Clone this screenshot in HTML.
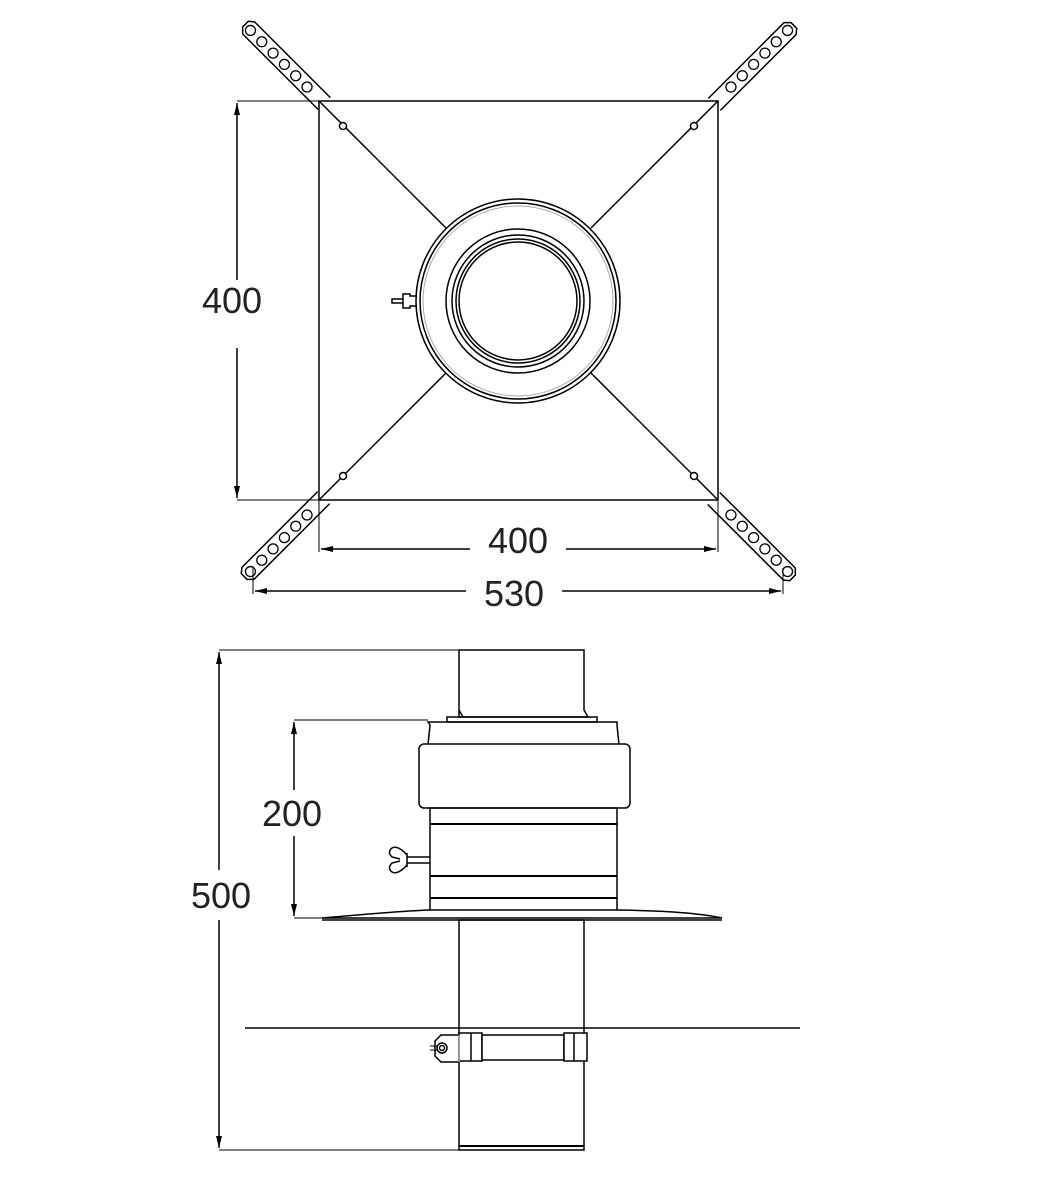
<!DOCTYPE html>
<html><head><meta charset="utf-8"><style>
html,body{margin:0;padding:0;background:#fff}
svg{display:block}
text{font-family:"Liberation Sans",sans-serif;font-size:36px;fill:#222}
</style></head><body>
<svg width="1040" height="1182" viewBox="0 0 1040 1182" xmlns="http://www.w3.org/2000/svg">
<defs>
<marker id="a" markerWidth="12" markerHeight="8" refX="12" refY="4" orient="auto" markerUnits="userSpaceOnUse"><path d="M0,1 L12,4 L0,7 z" fill="#000"/></marker>
<g id="strap">
<path d="M0,-8 L107,-8 L112,-3 L112,5 L107,9 L0,9" fill="#fff" stroke="#000" stroke-width="1.5"/>
<circle cx="24" cy="0" r="5" fill="none" stroke="#000" stroke-width="1.3"/>
<circle cx="40" cy="0" r="5" fill="none" stroke="#000" stroke-width="1.3"/>
<circle cx="56" cy="0" r="5" fill="none" stroke="#000" stroke-width="1.3"/>
<circle cx="72" cy="0" r="5" fill="none" stroke="#000" stroke-width="1.3"/>
<circle cx="88" cy="0" r="5" fill="none" stroke="#000" stroke-width="1.3"/>
<circle cx="104" cy="0" r="5" fill="none" stroke="#000" stroke-width="1.3"/>
</g>
</defs>
<g stroke="#000" fill="none" stroke-width="1.5">
<use href="#strap" transform="translate(324,104) rotate(225)"/>
<use href="#strap" transform="translate(714,104) rotate(-45)"/>
<use href="#strap" transform="translate(324,498) rotate(135)"/>
<use href="#strap" transform="translate(714,498) rotate(45)"/>
<rect x="319" y="101" width="399" height="399" fill="#fff"/>
<line x1="319" y1="101" x2="446" y2="228"/>
<line x1="718" y1="101" x2="591" y2="228"/>
<line x1="319" y1="500" x2="446" y2="373"/>
<line x1="718" y1="500" x2="591" y2="373"/>
<circle cx="343" cy="126" r="3.5" fill="#fff"/>
<circle cx="694" cy="126" r="3.5" fill="#fff"/>
<circle cx="343" cy="476" r="3.5" fill="#fff"/>
<circle cx="694" cy="476" r="3.5" fill="#fff"/>
<circle cx="518" cy="301" r="102" fill="#fff"/>
<circle cx="518" cy="301" r="98"/>
<circle cx="518" cy="301" r="95" stroke="#aaa" stroke-width="1"/>
<circle cx="518" cy="301" r="72"/>
<circle cx="518" cy="301" r="66"/>
<circle cx="518" cy="301" r="62"/>
<circle cx="518" cy="301" r="59"/>
<path d="M416,296 L410,296 L410,294 L403,294 L403,308 L410,308 L410,306 L416,306 M403,299 L392,299 L392,303 L403,303"/>
<line x1="237" y1="101" x2="319" y2="101" stroke-width="1"/>
<line x1="237" y1="500" x2="319" y2="500" stroke-width="1"/>
<line x1="237" y1="280" x2="237" y2="103" marker-end="url(#a)"/>
<line x1="237" y1="348" x2="237" y2="498" marker-end="url(#a)"/>
<line x1="319" y1="500" x2="319" y2="552" stroke-width="1"/>
<line x1="718" y1="500" x2="718" y2="552" stroke-width="1"/>
<line x1="470" y1="549" x2="321" y2="549" marker-end="url(#a)"/>
<line x1="566" y1="549" x2="716" y2="549" marker-end="url(#a)"/>
<line x1="253" y1="568" x2="253" y2="594" stroke-width="1"/>
<line x1="783" y1="568" x2="783" y2="594" stroke-width="1"/>
<line x1="466" y1="591" x2="255" y2="591" marker-end="url(#a)"/>
<line x1="562" y1="591" x2="781" y2="591" marker-end="url(#a)"/>
<path d="M459,650 L584,650 L584,710 L588,717 L459,717 L459,710 L463,717 M459,650 L459,710"/>
<path d="M447,717 L597,717 L597,722 L447,722 Z"/>
<path d="M428,722 L617,722 L617,725 L619,745 L428,745 L430,725 Z"/>
<rect x="419" y="744" width="211" height="64" rx="5" fill="#fff"/>
<rect x="430" y="808" width="187" height="104"/>
<line x1="430" y1="824" x2="617" y2="824" stroke-width="2"/>
<line x1="430" y1="876" x2="617" y2="876" stroke-width="2"/>
<line x1="430" y1="898" x2="617" y2="898" stroke-width="2"/>
<path d="M430,863 L407,863 M430,857 L407,857 M407,853 L407,867 M407,855 Q398,845 392,848 Q387,852 392,857 L400,859 M407,865 Q398,875 392,872 Q387,868 392,863 L400,861"/>
<path d="M322,918 Q400,911 430,910 L617,910 Q690,911 722,918 Z" fill="#fff"/>
<line x1="322" y1="920" x2="722" y2="920"/>
<rect x="459" y="920" width="125" height="230"/>
<line x1="459" y1="1146" x2="584" y2="1146" stroke-width="2"/>
<line x1="245" y1="1028" x2="800" y2="1028"/>
<path d="M441,1035 L459,1035 L459,1062 L441,1062 L435,1056 L435,1041 Z" fill="#fff"/>
<circle cx="442" cy="1048" r="5"/><circle cx="442" cy="1048" r="2.5"/>
<line x1="430" y1="1046" x2="437" y2="1046" stroke-width="1"/><line x1="430" y1="1050" x2="437" y2="1050" stroke-width="1"/>
<rect x="459" y="1033" width="23" height="28" fill="#fff"/>
<line x1="471" y1="1033" x2="471" y2="1061"/>
<rect x="482" y="1035" width="82" height="25" fill="#fff"/>
<rect x="564" y="1033" width="23" height="28" fill="#fff"/>
<line x1="574" y1="1033" x2="574" y2="1061"/>
<line x1="459" y1="1035" x2="459" y2="1062" stroke="#aaa"/>
<line x1="219" y1="650" x2="459" y2="650" stroke-width="1"/>
<line x1="219" y1="1150" x2="459" y2="1150" stroke-width="1"/>
<line x1="219" y1="870" x2="219" y2="652" marker-end="url(#a)"/>
<line x1="219" y1="920" x2="219" y2="1148" marker-end="url(#a)"/>
<line x1="294" y1="720" x2="428" y2="720" stroke-width="1"/>
<line x1="294" y1="918" x2="322" y2="918" stroke-width="1"/>
<line x1="294" y1="790" x2="294" y2="722" marker-end="url(#a)"/>
<line x1="294" y1="836" x2="294" y2="916" marker-end="url(#a)"/>
</g>
<text x="232" y="313" text-anchor="middle">400</text>
<text x="518" y="553" text-anchor="middle">400</text>
<text x="514" y="606" text-anchor="middle">530</text>
<text x="292" y="826" text-anchor="middle">200</text>
<text x="221" y="908" text-anchor="middle">500</text>
</svg>
</body></html>
